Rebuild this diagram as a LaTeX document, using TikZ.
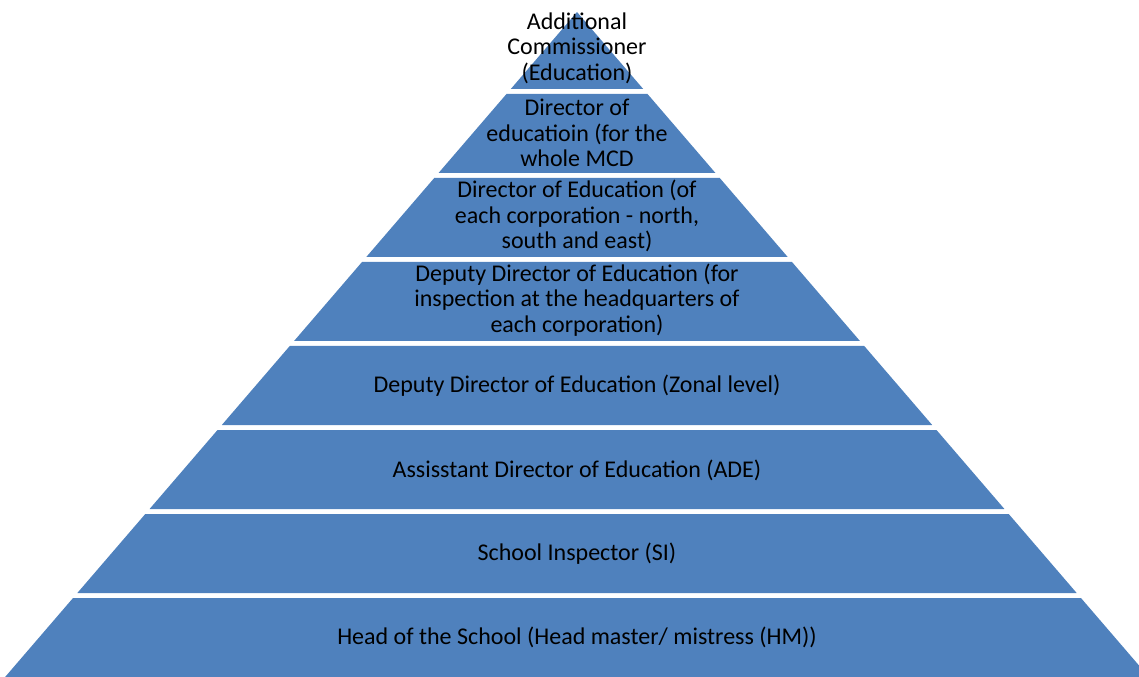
\documentclass[tikz,border=0pt]{standalone}
\usepackage{fontspec}
\setmainfont{Carlito}
\usepackage{tikz}
\definecolor{pyrblue}{RGB}{79,129,189}

\begin{document}
\begin{tikzpicture}[x=0.75pt,y=-0.75pt,
	tierfill/.style={fill=pyrblue},
	tiertext/.style={align=center, text=black, font=\fontsize{18}{19.2}\selectfont}]
	% Frame of the picture
	\useasboundingbox (0,0) rectangle (1139,677);
	\clip (0,0) rectangle (1139,677);
	
	% Pyramid tiers (top/bottom of each band)
	\foreach \t/\b in {12/89, 94/173, 178/257, 262/341, 346/425, 430/509, 514/593, 598/680}
		\fill[tierfill] ({577-0.86*(\t-12)},\t) -- ({577+0.86*(\t-12)},\t)
			-- ({577+0.86*(\b-12)},\b) -- ({577-0.86*(\b-12)},\b) -- cycle;
	
	% Labels of the tiers, top to bottom
	\node[tiertext] (commissioner) at (577,48) {Additional\\Commissioner\\(Education)};
	\node[tiertext] (dirmcd) at (577,133) {Director of\\educatioin (for the\\whole MCD};
	\node[tiertext] (dircorp) at (577,216) {Director of Education (of\\each corporation - north,\\south and east)};
	\node[tiertext] (deputyhq) at (577,300) {Deputy Director of Education (for\\inspection at the headquarters of\\each corporation)};
	\node[tiertext] (deputyzone) at (577,386) {Deputy Director of Education (Zonal level)};
	\node[tiertext] (ade) at (577,470) {Assisstant Director of Education (ADE)};
	\node[tiertext] (si) at (577,554) {School Inspector (SI)};
	\node[tiertext] (hm) at (577,637) {Head of the School (Head master/ mistress (HM))};
	
\end{tikzpicture}
\end{document}
